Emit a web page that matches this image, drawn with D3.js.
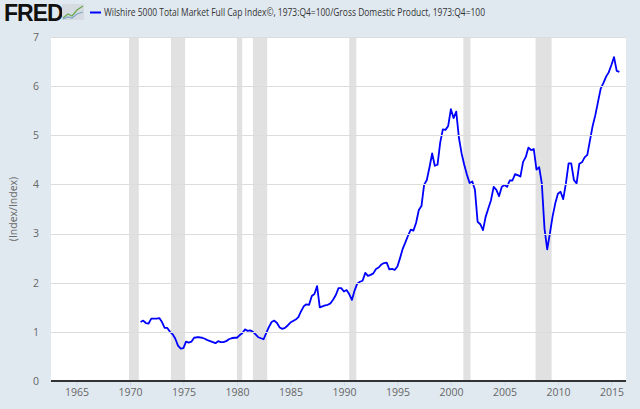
<!DOCTYPE html>
<html>
<head>
<meta charset="utf-8">
<script src="https://cdn.jsdelivr.net/npm/d3@7"></script>
<style>
  html, body { margin: 0; padding: 0; background: #e1e9f0; }
  svg { display: block; font-family: "Open Sans", sans-serif; }
</style>
</head>
<body>
<script>
// Quarterly ratio, Wilshire 5000 / GDP (1973:Q4=100 both), 1971:Q1 .. 2015:Q4
const firstYear = 1971;
const v1970s = [
  1.20, 1.23, 1.18, 1.17,  1.27, 1.27, 1.27, 1.28,  1.20, 1.08, 1.08, 1.00,
  0.95, 0.86, 0.72, 0.66,  0.67, 0.80, 0.78, 0.80,  0.88, 0.89, 0.89, 0.88,
  0.86, 0.83, 0.81, 0.79,  0.77, 0.81, 0.79, 0.79,  0.81, 0.85, 0.87, 0.88
];
const v1980s = [
  0.88, 0.93, 0.97, 1.05,  1.02, 1.03, 1.00, 0.95,  0.89, 0.87, 0.85, 0.98,
  1.10, 1.20, 1.23, 1.18,  1.09, 1.06, 1.08, 1.13,  1.19, 1.22, 1.25, 1.30,
  1.42, 1.52, 1.56, 1.55,  1.73, 1.77, 1.93, 1.50,  1.52, 1.54, 1.55, 1.58,
  1.66, 1.75, 1.89, 1.89
];
const v1990s = [
  1.82, 1.85, 1.77, 1.65,  1.84, 1.98, 2.02, 2.04,  2.20, 2.14, 2.16, 2.19,
  2.28, 2.31, 2.37, 2.40,  2.41, 2.27, 2.28, 2.26,  2.33, 2.50, 2.69, 2.82,
  2.96, 3.08, 3.06, 3.22,  3.48, 3.56, 3.99, 4.09,  4.35, 4.63, 4.38, 4.40,
  4.85, 5.12, 5.11, 5.19
];
const v2000s = [
  5.53, 5.35, 5.48, 4.95,  4.63, 4.40, 4.20, 4.03,  4.06, 3.89, 3.24, 3.19,
  3.07, 3.34, 3.51, 3.68,  3.95, 3.89, 3.76, 3.95,  3.99, 3.95, 4.08, 4.08,
  4.21, 4.19, 4.16, 4.46,  4.56, 4.75, 4.70, 4.72,  4.30, 4.35, 4.02, 3.10,
  2.68, 3.00, 3.34, 3.61
];
const v2010s = [
  3.81, 3.85, 3.70, 4.02,  4.43, 4.43, 4.09, 4.02,  4.42, 4.45, 4.55, 4.60,
  4.90, 5.19, 5.41, 5.68,  5.95, 6.06, 6.19, 6.28,  6.43, 6.59, 6.31, 6.29
];

// NBER recessions, peak to trough
const recessions = [
  ["1969-12-01", "1970-11-01"],
  ["1973-11-01", "1975-03-01"],
  ["1980-01-01", "1980-07-01"],
  ["1981-07-01", "1982-11-01"],
  ["1990-07-01", "1991-03-01"],
  ["2001-03-01", "2001-11-01"],
  ["2007-12-01", "2009-06-01"]
];

const xTicks = [1965, 1970, 1975, 1980, 1985, 1990, 1995, 2000, 2005, 2010, 2015];
const yTicks = [0, 1, 2, 3, 4, 5, 6, 7];

const legendText = "Wilshire 5000 Total Market Full Cap Index\u00a9, 1973:Q4=100/Gross Domestic Product, 1973:Q4=100";
const yTitle = "(Index/Index)";

const values = [...v1970s, ...v1980s, ...v1990s, ...v2000s, ...v2010s];
const data = values.map((v, i) => ({
  date: new Date(firstYear + Math.floor(i / 4), (i % 4) * 3, 1),
  value: v
}));

const width = 640, height = 409;
const plot = {left: 51, right: 626, top: 37, bottom: 381};

const x = d3.scaleTime()
    .domain([new Date(1965, 0, 1), new Date(2015, 0, 1)])
    .range([76.4, 611.4]);
const y = d3.scaleLinear()
    .domain([0, 7])
    .range([plot.bottom, plot.top]);

const svg = d3.select("body").append("svg")
    .attr("width", width)
    .attr("height", height)
    .attr("viewBox", [0, 0, width, height]);

svg.append("rect")
    .attr("width", width)
    .attr("height", height)
    .attr("fill", "#e1e9f0");

svg.append("defs").append("clipPath")
    .attr("id", "plot-clip")
  .append("rect")
    .attr("x", plot.left)
    .attr("y", plot.top)
    .attr("width", plot.right - plot.left)
    .attr("height", plot.bottom - plot.top);

// plot background
svg.append("rect")
    .attr("x", plot.left)
    .attr("y", plot.top)
    .attr("width", plot.right - plot.left)
    .attr("height", plot.bottom - plot.top)
    .attr("fill", "#fff");

const inner = svg.append("g").attr("clip-path", "url(#plot-clip)");

inner.append("g")
  .selectAll("rect")
  .data(recessions)
  .join("rect")
    .attr("x", d => x(new Date(d[0])))
    .attr("width", d => x(new Date(d[1])) - x(new Date(d[0])))
    .attr("y", plot.top)
    .attr("height", plot.bottom - plot.top)
    .attr("fill", "#e1e1e1");

// horizontal grid
svg.append("g")
  .selectAll("line")
  .data(yTicks.filter(d => d > 0))
  .join("line")
    .attr("x1", plot.left)
    .attr("x2", plot.right)
    .attr("y1", d => Math.round(y(d)) + 0.5)
    .attr("y2", d => Math.round(y(d)) + 0.5)
    .attr("stroke", "#dcdcdc")
    .attr("stroke-width", 1);

inner.append("path")
    .datum(data)
    .attr("fill", "none")
    .attr("stroke", "#0000ff")
    .attr("stroke-width", 1.8)
    .attr("stroke-linejoin", "round")
    .attr("d", d3.line().x(d => x(d.date)).y(d => y(d.value)));

// x axis
const xAxis = svg.append("g")
    .attr("transform", `translate(0,${plot.bottom})`)
    .call(d3.axisBottom(x)
        .tickValues(xTicks.map(yr => new Date(yr, 0, 1)))
        .tickFormat(d3.timeFormat("%Y"))
        .tickSize(5)
        .tickPadding(3));
xAxis.select(".domain").remove();
xAxis.selectAll(".tick line").attr("stroke", "#ccd6eb");
xAxis.selectAll(".tick text")
    .attr("fill", "#666")
    .style("font-size", "10.5px")
    .style("font-family", "'Open Sans', sans-serif");
svg.append("line")
    .attr("x1", plot.left)
    .attr("x2", plot.right)
    .attr("y1", plot.bottom)
    .attr("y2", plot.bottom)
    .attr("stroke", "#333")
    .attr("stroke-width", 2);

// y axis
const yAxis = svg.append("g")
    .attr("transform", `translate(${plot.left},0)`)
    .call(d3.axisLeft(y)
        .tickValues(yTicks)
        .tickFormat(d3.format("d"))
        .tickSize(0)
        .tickPadding(12));
yAxis.select(".domain").remove();
yAxis.selectAll(".tick text")
    .attr("fill", "#666")
    .style("font-size", "10.5px")
    .style("font-family", "'Open Sans', sans-serif");

svg.append("text")
    .attr("transform", "translate(17,209) rotate(-90)")
    .attr("text-anchor", "middle")
    .attr("fill", "#666")
    .style("font-size", "10.5px")
    .text(yTitle);

// header: FRED logo + legend
svg.append("text")
    .attr("x", 4)
    .attr("y", 21)
    .attr("fill", "#111")
    .style("font-family", "'Liberation Sans', Arial, sans-serif")
    .style("font-weight", "bold")
    .style("font-size", "23px")
    .style("letter-spacing", "-1px")
    .text("FRED");

const icon = svg.append("g").attr("transform", "translate(62,4)");
icon.append("rect")
    .attr("width", 22)
    .attr("height", 16)
    .attr("fill", "#d5dbe1");
icon.append("polyline")
    .attr("points", "1,14 6,10 10,12 15,6 21,2")
    .attr("fill", "none")
    .attr("stroke", "#6aa84f")
    .attr("stroke-width", 1.2);
icon.append("polyline")
    .attr("points", "1,15 6,13 10,14 15,10 21,8")
    .attr("fill", "none")
    .attr("stroke", "#7fa7c9")
    .attr("stroke-width", 1.2);

svg.append("line")
    .attr("x1", 90)
    .attr("x2", 101)
    .attr("y1", 12.5)
    .attr("y2", 12.5)
    .attr("stroke", "#0000ff")
    .attr("stroke-width", 2);
svg.append("text")
    .attr("x", 104)
    .attr("y", 16)
    .attr("fill", "#333")
    .attr("textLength", 381)
    .attr("lengthAdjust", "spacingAndGlyphs")
    .style("font-size", "10px")
    .text(legendText);
</script>
</body>
</html>
